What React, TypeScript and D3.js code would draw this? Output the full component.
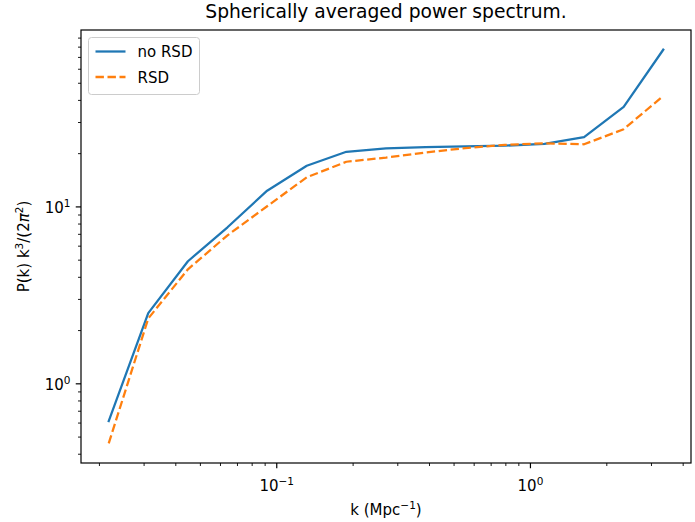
import React from 'react';
import * as d3 from 'd3';

// ---- data ----
const kValues = [0.02176, 0.03115, 0.04465, 0.06396, 0.09165, 0.1313, 0.1881, 0.2695, 0.3861, 0.5532, 0.7925, 1.1355, 1.627, 2.331, 3.339];
const noRsd = [0.616, 2.51, 4.93, 7.67, 12.35, 17.1, 20.5, 21.4, 21.8, 22.0, 22.2, 22.7, 24.8, 36.8, 77.4];
const rsd = [0.461, 2.34, 4.44, 6.91, 10.09, 14.7, 18.0, 19.0, 20.3, 21.5, 22.4, 22.9, 22.6, 27.5, 42.4];
const seriesNames = ['no RSD', 'RSD'];
const xMajorTicks = [0.1, 1];
const xTickExponents = ['\u22121', '0'];
const yMajorTicks = [1, 10];
const yTickExponents = ['0', '1'];
const titleText = 'Spherically averaged power spectrum.';

const W = 695;
const H = 522;
const M = { left: 81, right: 691, top: 30, bottom: 463 };
const FONT = 'DejaVu Sans, sans-serif';
const BLUE = '#1f77b4';
const ORANGE = '#ff7f0e';

function logDomain(vals: number[]): [number, number] {
  const lo = Math.log10(d3.min(vals) as number);
  const hi = Math.log10(d3.max(vals) as number);
  const m = (hi - lo) * 0.05;
  return [Math.pow(10, lo - m), Math.pow(10, hi + m)];
}

function minorTicks(domain: [number, number]): number[] {
  const out: number[] = [];
  const e0 = Math.floor(Math.log10(domain[0]));
  const e1 = Math.ceil(Math.log10(domain[1]));
  for (let e = e0; e <= e1; e++) {
    for (let m = 2; m <= 9; m++) {
      const v = m * Math.pow(10, e);
      if (v >= domain[0] && v <= domain[1]) out.push(v);
    }
  }
  return out;
}

export default function App() {
  const xDom = logDomain(kValues);
  const yDom = logDomain([...noRsd, ...rsd]);
  const x = d3.scaleLog().domain(xDom).range([M.left, M.right]);
  const y = d3.scaleLog().domain(yDom).range([M.bottom, M.top]);

  const line = d3
    .line<[number, number]>()
    .x((d) => x(d[0]))
    .y((d) => y(d[1]));

  const blueData: [number, number][] = kValues.map((k, i) => [k, noRsd[i]]);
  const orangeData: [number, number][] = kValues.map((k, i) => [k, rsd[i]]);

  const xMinor = minorTicks(xDom);
  const yMinor = minorTicks(yDom);

  const lw = 2.26;
  const dash = '8.4,3.6';

  const legX = M.left + 7.5;
  const legY = M.top + 7.5;
  const legW = 111;
  const legH = 57;

  return (
    <svg
      width={W}
      height={H}
      style={{ position: 'absolute', left: 0, top: 0, background: '#fff' }}
      fontFamily={FONT}
    >
      <rect x={0} y={0} width={W} height={H} fill="#fff" />
      {/* title */}
      <text x={(M.left + M.right) / 2} y={18} textAnchor="middle" fontSize={18.7} fill="#000">
        {titleText}
      </text>

      {/* lines */}
      <path d={line(blueData) || ''} fill="none" stroke={BLUE} strokeWidth={lw} strokeLinejoin="round" strokeLinecap="square" />
      <path d={line(orangeData) || ''} fill="none" stroke={ORANGE} strokeWidth={lw} strokeDasharray={dash} strokeLinejoin="round" />

      {/* axes frame */}
      <rect
        x={M.left}
        y={M.top}
        width={M.right - M.left}
        height={M.bottom - M.top}
        fill="none"
        stroke="#000"
        strokeWidth={1.2}
      />

      {/* x ticks */}
      {xMinor.map((v, i) => (
        <line key={'xm' + i} x1={x(v)} x2={x(v)} y1={M.bottom} y2={M.bottom + 3} stroke="#000" strokeWidth={0.9} />
      ))}
      {xMajorTicks.map((v, i) => (
        <g key={'xM' + i}>
          <line x1={x(v)} x2={x(v)} y1={M.bottom} y2={M.bottom + 5.25} stroke="#000" strokeWidth={1.2} />
          <text x={x(v)} y={491} textAnchor="middle" fontSize={15} fill="#000">
            10
            <tspan dy={-6} fontSize={10.5}>
              {xTickExponents[i]}
            </tspan>
          </text>
        </g>
      ))}

      {/* y ticks */}
      {yMinor.map((v, i) => (
        <line key={'ym' + i} x1={M.left - 3} x2={M.left} y1={y(v)} y2={y(v)} stroke="#000" strokeWidth={0.9} />
      ))}
      {yMajorTicks.map((v, i) => (
        <g key={'yM' + i}>
          <line x1={M.left - 5.25} x2={M.left} y1={y(v)} y2={y(v)} stroke="#000" strokeWidth={1.2} />
          <text x={M.left - 10.5} y={y(v) + 6.5} textAnchor="end" fontSize={15} fill="#000">
            10
            <tspan dy={-6} fontSize={10.5}>
              {yTickExponents[i]}
            </tspan>
          </text>
        </g>
      ))}

      {/* x label */}
      <text x={(M.left + M.right) / 2} y={515} textAnchor="middle" fontSize={15} fill="#000">
        k (Mpc
        <tspan dy={-6} fontSize={10.5}>
          {'\u22121'}
        </tspan>
        <tspan dy={6}>)</tspan>
      </text>

      {/* y label */}
      <text
        transform={`translate(29,${(M.top + M.bottom) / 2}) rotate(-90)`}
        textAnchor="middle"
        fontSize={15}
        fill="#000"
      >
        P(k) k
        <tspan dy={-6} fontSize={10.5}>
          3
        </tspan>
        <tspan dy={6}>/(2</tspan>
        <tspan fontStyle="italic">π</tspan>
        <tspan dy={-6} fontSize={10.5}>
          2
        </tspan>
        <tspan dy={6}>)</tspan>
      </text>

      {/* legend */}
      <rect
        x={legX}
        y={legY}
        width={legW}
        height={legH}
        rx={3}
        fill="#fff"
        fillOpacity={0.8}
        stroke="#cccccc"
        strokeWidth={1}
      />
      {seriesNames.map((name, i) => {
        const cy = legY + 14 + i * 25.5;
        return (
          <g key={name}>
            <line
              x1={legX + 7}
              x2={legX + 37}
              y1={cy}
              y2={cy}
              stroke={i === 0 ? BLUE : ORANGE}
              strokeWidth={lw}
              strokeDasharray={i === 0 ? undefined : dash}
            />
            <text x={legX + 49} y={cy + 5.5} fontSize={15} fill="#000">
              {name}
            </text>
          </g>
        );
      })}
    </svg>
  );
}
